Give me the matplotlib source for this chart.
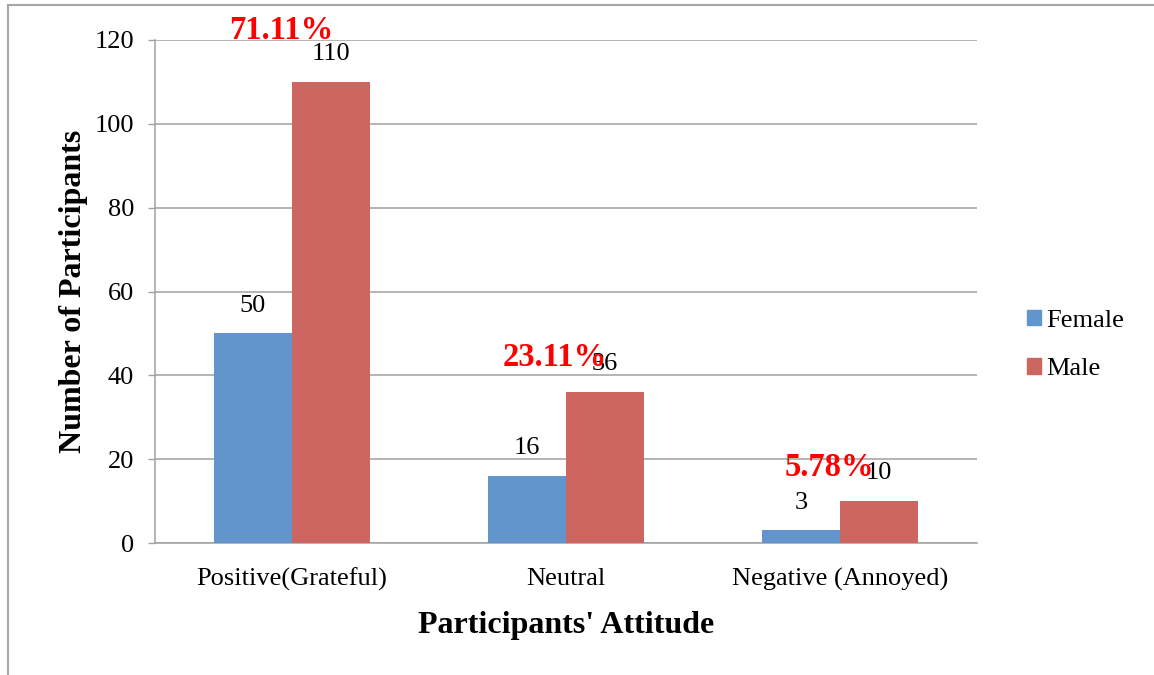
import matplotlib
matplotlib.use("Agg")
import matplotlib.pyplot as plt
import numpy as np
from matplotlib.patches import Patch
from matplotlib.lines import Line2D

categories = ["Positive(Grateful)", "Neutral", "Negative (Annoyed)"]
female = [50, 16, 3]
male = [110, 36, 10]
percent_labels = ["71.11%", "23.11%", "5.78%"]
percent_y = [122.2, 44.3, 17.9]
yticks = [0, 20, 40, 60, 80, 100, 120]

plt.rcParams['font.family'] = ['Liberation Serif', 'DejaVu Serif']

fig = plt.figure(figsize=(11.54, 6.75), dpi=100)
ax = fig.add_axes([155/1154, 1-543/675, (977-155)/1154, (543-40)/675])

x = np.arange(len(categories))
w = 0.285
c_f = '#6195CB'
c_m = '#CD6661'
bf = ax.bar(x - w/2, female, w, color=c_f, zorder=3)
bm = ax.bar(x + w/2, male, w, color=c_m, zorder=3)

for rect, v in list(zip(bf, female)) + list(zip(bm, male)):
    ax.annotate(str(v), (rect.get_x() + rect.get_width()/2, v),
                xytext=(0, 20), textcoords='offset points',
                ha='center', va='center', fontsize=19, color='black', zorder=5)

for i, (lab, yy) in enumerate(zip(percent_labels, percent_y)):
    ax.text(i - 0.04, yy, lab, ha='center', va='center', fontsize=23.5,
            fontweight='bold', color='#FF0000', zorder=6, clip_on=False)

ax.set_xlim(-0.5, 2.5)
ax.set_ylim(0, 120)
ax.set_yticks(yticks)
ax.set_xticks(x)
ax.set_xticklabels(categories)
ax.tick_params(axis='y', labelsize=19, length=5, width=1, color='#A0A0A0', pad=10)
ax.tick_params(axis='x', labelsize=19, length=0, pad=18)
ax.grid(axis='y', color='#A0A0A0', linewidth=1.1, zorder=0)
ax.set_axisbelow(True)
for s in ['top', 'right']:
    ax.spines[s].set_visible(False)
for s in ['left', 'bottom']:
    ax.spines[s].set_color('#A0A0A0')
    ax.spines[s].set_linewidth(1.1)

ax.set_ylabel("Number of Participants", fontsize=23, fontweight='bold', labelpad=5)
ax.set_xlabel("Participants' Attitude", fontsize=23, fontweight='bold', labelpad=14)

handles = [Patch(color=c_f, label='Female'), Patch(color=c_m, label='Male')]
fig.legend(handles=handles, loc='center left', bbox_to_anchor=(1003/1154, 1-345/675),
           frameon=False, fontsize=19, handlelength=0.55, handleheight=0.55,
           handletextpad=0.2, labelspacing=1.0)

# outer border lines
fig.add_artist(Line2D([8/1154, 1], [1-5/675, 1-5/675], color='#A6A6A6', linewidth=1.5))
fig.add_artist(Line2D([8/1154, 8/1154], [0, 1-5/675], color='#A6A6A6', linewidth=1.5))

fig.savefig("out.png", dpi=100)
